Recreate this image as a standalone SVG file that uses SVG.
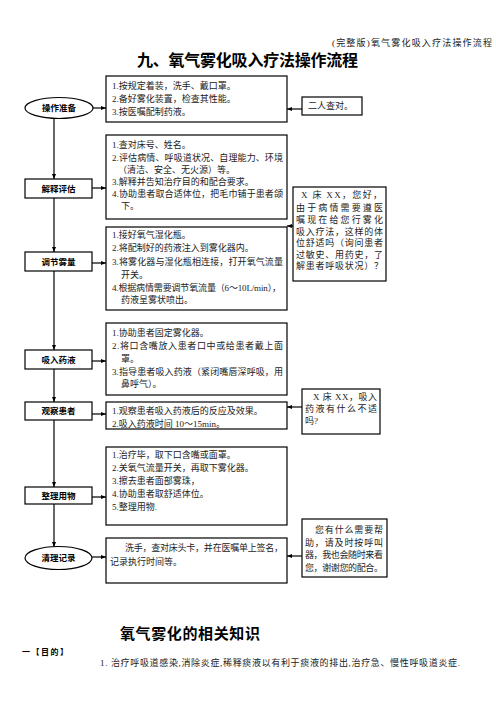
<svg xmlns="http://www.w3.org/2000/svg" width="496" height="702" viewBox="0 0 496 702">
<defs>
<marker id="ah" viewBox="0 0 10 10" refX="10" refY="5" markerWidth="5" markerHeight="5" orient="auto" markerUnits="userSpaceOnUse"><path d="M0,1 L10,5 L0,9 z" fill="#000"/></marker>
<style>
.bx{fill:#fff;stroke:#000;stroke-width:1.2}
.ln{stroke:#000;stroke-width:1.2;fill:none;marker-end:url(#ah)}
.t{font-family:"Liberation Serif","Noto Sans CJK SC",serif;font-size:9px;fill:#222}
.lb{font-family:"Noto Sans CJK SC",sans-serif;font-size:8.5px;font-weight:bold;fill:#000;text-anchor:middle}
.h{font-family:"Liberation Serif","Noto Sans CJK SC",serif;font-weight:bold;fill:#000}
</style>
</defs>
<rect width="496" height="702" fill="#fff"/>
<text class="t" x="332" y="46" font-size="7.5" textLength="160" fill="#444">(完整版)氧气雾化吸入疗法操作流程</text>
<text class="h" x="137" y="66" font-size="16" textLength="221">九、氧气雾化吸入疗法操作流程</text>

<g id="connectors">
<line class="ln" x1="54" y1="118" x2="54" y2="179"/>
<line class="ln" x1="54" y1="198" x2="54" y2="252"/>
<line class="ln" x1="54" y1="271" x2="54" y2="350"/>
<line class="ln" x1="54" y1="369" x2="54" y2="402"/>
<line class="ln" x1="54" y1="420" x2="54" y2="487"/>
<line class="ln" x1="54" y1="504" x2="54" y2="547"/>
<line class="ln" x1="93" y1="108" x2="106" y2="108"/>
<line class="ln" x1="92" y1="188" x2="106" y2="188"/>
<line class="ln" x1="92" y1="263" x2="106" y2="263"/>
<line class="ln" x1="92" y1="361" x2="106" y2="361"/>
<line class="ln" x1="92" y1="414" x2="106" y2="414"/>
<line class="ln" x1="92" y1="497" x2="106" y2="497"/>
<line class="ln" x1="92" y1="557" x2="106" y2="557"/>
<line class="ln" x1="302" y1="109" x2="287" y2="109"/>
<line class="ln" x1="293" y1="226" x2="287" y2="226"/>
<line class="ln" x1="302" y1="407" x2="287" y2="407"/>
<line class="ln" x1="302" y1="556" x2="287" y2="556"/>
</g>

<g id="n-prep">
<ellipse class="bx" cx="59" cy="108" rx="34" ry="10.5"/>
<text class="lb" x="59" y="111">操作准备</text>
</g>
<g id="n-explain">
<rect class="bx" x="25" y="179" width="67" height="19"/>
<text class="lb" x="58.5" y="191.5">解释评估</text>
</g>
<g id="n-adjust">
<rect class="bx" x="25" y="252" width="67" height="19"/>
<text class="lb" x="58.5" y="264.5">调节雾量</text>
</g>
<g id="n-inhale">
<rect class="bx" x="25" y="350" width="67" height="19"/>
<text class="lb" x="58.5" y="362.5">吸入药液</text>
</g>
<g id="n-observe">
<rect class="bx" x="25" y="402" width="67" height="18"/>
<text class="lb" x="58.5" y="414">观察患者</text>
</g>
<g id="n-tidy">
<rect class="bx" x="25" y="487" width="67" height="17"/>
<text class="lb" x="58.5" y="498.5">整理用物</text>
</g>
<g id="n-record">
<ellipse class="bx" cx="58.5" cy="558" rx="33.5" ry="11.5"/>
<text class="lb" x="58.5" y="561">清理记录</text>
</g>

<g id="b-prep">
<rect class="bx" x="106" y="76" width="181" height="46"/>
<text class="t" x="112" y="89">1.按规定着装，洗手、戴口罩。</text>
<text class="t" x="112" y="102">2.备好雾化装置，检查其性能。</text>
<text class="t" x="112" y="115">3.按医嘱配制药液。</text>
</g>
<g id="b-explain">
<rect class="bx" x="106" y="135" width="181" height="84"/>
<text class="t" x="112" y="148">1.查对床号、姓名。</text>
<text class="t" x="112" y="161" textLength="171">2.评估病情、呼吸道状况、自理能力、环境</text>
<text class="t" x="118" y="173">（清洁、安全、无火源）等。</text>
<text class="t" x="112" y="185">3.解释并告知治疗目的和配合要求。</text>
<text class="t" x="112" y="197" textLength="171">4.协助患者取合适体位，把毛巾铺于患者颌</text>
<text class="t" x="121" y="209">下。</text>
</g>
<g id="b-adjust">
<rect class="bx" x="106" y="227" width="181" height="83"/>
<text class="t" x="112" y="238">1.接好氧气湿化瓶。</text>
<text class="t" x="112" y="251">2.将配制好的药液注入到雾化器内。</text>
<text class="t" x="112" y="265" textLength="171">3.将雾化器与湿化瓶相连接，打开氧气流量</text>
<text class="t" x="121" y="278">开关。</text>
<text class="t" x="112" y="291" textLength="169">4.根据病情需要调节氧流量（6～10L/min），</text>
<text class="t" x="121" y="303">药液呈雾状喷出。</text>
</g>
<g id="b-inhale">
<rect class="bx" x="106" y="323" width="181" height="72"/>
<text class="t" x="112" y="336">1.协助患者固定雾化器。</text>
<text class="t" x="112" y="349" textLength="171">2.将口含嘴放入患者口中或给患者戴上面</text>
<text class="t" x="121" y="362">罩。</text>
<text class="t" x="112" y="375" textLength="171">3.指导患者吸入药液（紧闭嘴唇深呼吸，用</text>
<text class="t" x="121" y="387">鼻呼气）。</text>
</g>
<g id="b-observe">
<rect class="bx" x="106" y="402" width="181" height="27"/>
<text class="t" x="112" y="414">1.观察患者吸入药液后的反应及效果。</text>
<text class="t" x="112" y="427">2.吸入药液时间 10～15min。</text>
</g>
<g id="b-tidy">
<rect class="bx" x="106" y="447" width="181" height="78"/>
<text class="t" x="112" y="458">1.治疗毕，取下口含嘴或面罩。</text>
<text class="t" x="112" y="471">2.关氧气流量开关，再取下雾化器。</text>
<text class="t" x="112" y="484">3.擦去患者面部雾珠，</text>
<text class="t" x="112" y="497">4.协助患者取舒适体位。</text>
<text class="t" x="112" y="510">5.整理用物.</text>
</g>
<g id="b-record">
<rect class="bx" x="106" y="538" width="181" height="45"/>
<text class="t" x="125" y="551" textLength="158">洗手，查对床头卡，并在医嘱单上签名，</text>
<text class="t" x="110" y="565">记录执行时间等。</text>
</g>

<g id="r-check">
<rect class="bx" x="302" y="97" width="60" height="18"/>
<text class="t" x="308" y="109">二人查对。</text>
</g>
<g id="r-greet">
<rect class="bx" x="293" y="187" width="93" height="94"/>
<text class="t" x="301" y="198" textLength="81">X 床 XX，您好，</text>
<text class="t" x="296" y="211" textLength="87">由于病情需要遵医</text>
<text class="t" x="296" y="223" textLength="87">嘱现在给您行雾化</text>
<text class="t" x="296" y="235" textLength="87">吸入疗法，这样的体</text>
<text class="t" x="296" y="246" textLength="87">位舒适吗（询问患者</text>
<text class="t" x="296" y="258" textLength="87">过敏史、用药史，了</text>
<text class="t" x="296" y="269" textLength="87">解患者呼吸状况）？</text>
</g>
<g id="r-ask">
<rect class="bx" x="302" y="389" width="78" height="45"/>
<text class="t" x="313" y="400" textLength="64">X 床 XX，吸入</text>
<text class="t" x="305" y="412" textLength="72">药液有什么不适</text>
<text class="t" x="305" y="424">吗?</text>
</g>
<g id="r-help">
<rect class="bx" x="302" y="519" width="85" height="58"/>
<text class="t" x="315" y="533" textLength="68">您有什么需要帮</text>
<text class="t" x="305" y="546" textLength="78">助，请及时按呼叫</text>
<text class="t" x="305" y="558" textLength="78">器，我也会随时来看</text>
<text class="t" x="305" y="571" textLength="78">您，谢谢您的配合。</text>
</g>

<text class="h" x="120" y="639" font-size="15" textLength="140">氧气雾化的相关知识</text>
<text class="h" x="22" y="655" font-size="8" textLength="46">一【目的】</text>
<text class="t" x="100" y="666" font-size="7.5" textLength="360">1. 治疗呼吸道感染,消除炎症,稀释痰液以有利于痰液的排出,治疗急、慢性呼吸道炎症.</text>
</svg>
